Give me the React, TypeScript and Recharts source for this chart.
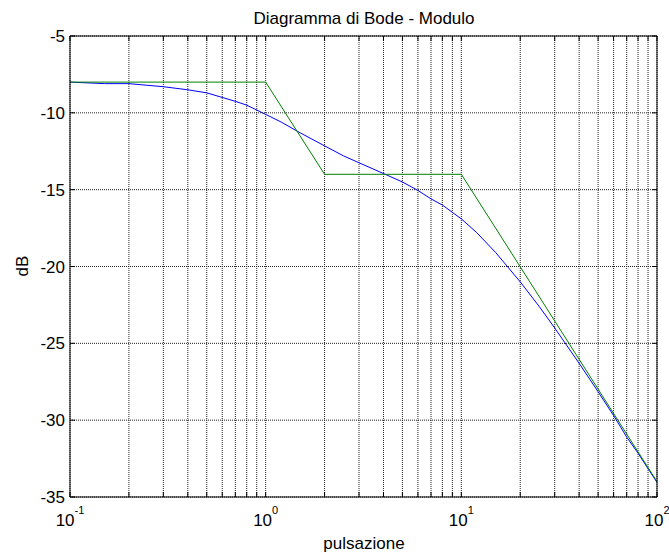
import React from 'react';
import { LineChart, Line, XAxis, YAxis, CartesianGrid } from 'recharts';

// Asymptotic (straight-line) Bode magnitude
const asymOmega = [0.1, 1, 2, 10, 100];
const asymDb = [-8, -8, -14, -14, -34];

const realOmega = [0.1, 0.15, 0.2, 0.3, 0.4, 0.5, 0.6, 0.7, 0.8, 1, 1.2, 1.5, 2, 2.5, 3, 4, 5, 6, 7, 8, 10, 12, 15, 20, 25, 30, 40, 50, 60, 70, 80, 100];
const realDb = [-8.0, -8.1, -8.1, -8.3, -8.5, -8.7, -9.0, -9.25, -9.5, -10.1, -10.6, -11.3, -12.15, -12.8, -13.25, -13.95, -14.5, -15.05, -15.6, -16.0, -16.9, -17.8, -19.1, -21.0, -22.6, -24.0, -26.3, -28.15, -29.7, -31.1, -32.15, -34.05];

const decadeTicks = [0.1, 1, 10, 100];
const decadeExp = ['-1', '0', '1', '2'];
const logGridTicks = [0.1, 0.2, 0.3, 0.4, 0.5, 0.6, 0.7, 0.8, 0.9, 1, 2, 3, 4, 5, 6, 7, 8, 9, 10, 20, 30, 40, 50, 60, 70, 80, 90, 100];
const dbTicks = [-35, -30, -25, -20, -15, -10, -5];
const dbLabels = ['-35', '-30', '-25', '-20', '-15', '-10', '-5'];

const titleText = 'Diagramma di Bode - Modulo';
const xLabelText = 'pulsazione';
const yLabelText = 'dB';

const FONT = 'Arial, "Liberation Sans", Helvetica, sans-serif';

const asymData = asymOmega.map((w, i) => ({ w, db: asymDb[i] }));
const realData = realOmega.map((w, i) => ({ w, db: realDb[i] }));

const BottomTick = (props: any) => {
  const { x, y, payload } = props;
  const i = decadeTicks.indexOf(payload.value);
  return (
    <g>
      <line x1={x} y1={y} x2={x} y2={y - 5} stroke="#000" strokeWidth={1} />
      {i >= 0 && (
        <text x={x} y={y + 29} textAnchor="middle" fontFamily={FONT} fontSize={17} fill="#000">
          <tspan>10</tspan>
          <tspan dy={-12.5} fontSize={11}>{decadeExp[i]}</tspan>
        </text>
      )}
    </g>
  );
};

const TopTick = (props: any) => {
  const { x, y } = props;
  return <line x1={x} y1={y} x2={x} y2={y + 5} stroke="#000" strokeWidth={1} />;
};

const LeftTick = (props: any) => {
  const { x, y, payload } = props;
  const i = dbTicks.indexOf(payload.value);
  return (
    <g>
      <line x1={x} y1={y} x2={x + 5} y2={y} stroke="#000" strokeWidth={1} />
      <text x={x - 5} y={y + 6} textAnchor="end" fontFamily={FONT} fontSize={17} fill="#000">
        {i >= 0 ? dbLabels[i] : String(payload.value)}
      </text>
    </g>
  );
};

const RightTick = (props: any) => {
  const { x, y } = props;
  return <line x1={x} y1={y} x2={x - 5} y2={y} stroke="#000" strokeWidth={1} />;
};

export default function App() {
  return (
    <div style={{ position: 'absolute', left: 0, top: 0, width: 669, height: 553, background: '#fff' }}>
      <LineChart width={669} height={553} margin={{ top: 0, right: 0, bottom: 0, left: 0 }}>
        <CartesianGrid
          xAxisId="b"
          yAxisId="l"
          stroke="#222"
          strokeDasharray="1 1"
          strokeWidth={1}
        />
        <XAxis
          xAxisId="b"
          dataKey="w"
          type="number"
          scale="log"
          domain={[0.1, 100]}
          allowDataOverflow
          ticks={logGridTicks}
          interval={0}
          height={56}
          tickSize={0}
          tickMargin={0}
          tickLine={false}
          axisLine={{ stroke: '#000', strokeWidth: 1 }}
          tick={(p: any) => <BottomTick {...p} />}
        />
        <XAxis
          xAxisId="t"
          orientation="top"
          dataKey="w"
          type="number"
          scale="log"
          domain={[0.1, 100]}
          allowDataOverflow
          ticks={logGridTicks}
          interval={0}
          height={36}
          tickSize={0}
          tickMargin={0}
          tickLine={false}
          axisLine={{ stroke: '#000', strokeWidth: 1 }}
          tick={(p: any) => <TopTick {...p} />}
        />
        <YAxis
          yAxisId="l"
          type="number"
          domain={[-35, -5]}
          allowDataOverflow
          ticks={dbTicks}
          interval={0}
          width={70}
          tickSize={0}
          tickMargin={0}
          tickLine={false}
          axisLine={{ stroke: '#000', strokeWidth: 1 }}
          tick={(p: any) => <LeftTick {...p} />}
        />
        <YAxis
          yAxisId="r"
          orientation="right"
          type="number"
          domain={[-35, -5]}
          allowDataOverflow
          ticks={dbTicks}
          interval={0}
          width={12}
          tickSize={0}
          tickMargin={0}
          tickLine={false}
          axisLine={{ stroke: '#000', strokeWidth: 1 }}
          tick={(p: any) => <RightTick {...p} />}
        />
        <Line
          xAxisId="b"
          yAxisId="l"
          data={realData}
          dataKey="db"
          type="linear"
          stroke="#0000ff"
          strokeWidth={1}
          dot={false}
          isAnimationActive={false}
        />
        <Line
          xAxisId="b"
          yAxisId="l"
          data={asymData}
          dataKey="db"
          type="linear"
          stroke="#008000"
          strokeWidth={1}
          dot={false}
          isAnimationActive={false}
        />
      </LineChart>
      <svg
        width={669}
        height={553}
        style={{ position: 'absolute', left: 0, top: 0, pointerEvents: 'none' }}
      >
        <text x={364} y={24} textAnchor="middle" fontFamily={FONT} fontSize={17} fill="#000">
          {titleText}
        </text>
        <text x={364} y={549} textAnchor="middle" fontFamily={FONT} fontSize={17} fill="#000">
          {xLabelText}
        </text>
        <text
          x={28}
          y={266}
          textAnchor="middle"
          fontFamily={FONT}
          fontSize={17}
          fill="#000"
          transform="rotate(-90 28 266)"
        >
          {yLabelText}
        </text>
      </svg>
    </div>
  );
}
